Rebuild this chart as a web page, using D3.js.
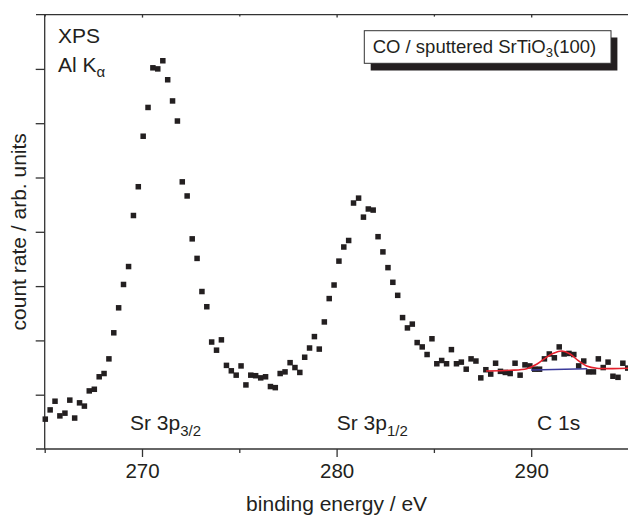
<!DOCTYPE html>
<html>
<head>
<meta charset="utf-8">
<script src="https://cdn.jsdelivr.net/npm/d3@7"></script>
<style>
  body { margin: 0; background: #fff; }
  text { font-family: "Liberation Sans", Arial, sans-serif; fill: #231f20; }
</style>
</head>
<body>
<div id="chart"></div>
<script>
var width = 628
var height = 516

// binding energies of the measured points (eV)
var energies = [
  265.03, 265.28, 265.53, 265.78, 266.04, 266.29, 266.54, 266.79, 267.04, 267.29,
  267.55, 267.80, 268.05, 268.30, 268.55, 268.80, 269.05, 269.31, 269.56, 269.81,
  270.06, 270.31, 270.56, 270.81, 271.07, 271.32, 271.57, 271.82, 272.07, 272.32,
  272.58, 272.83, 273.08, 273.33, 273.58, 273.83, 274.08, 274.34, 274.59, 274.84,
  275.09, 275.34, 275.59, 275.84, 276.10, 276.35, 276.60, 276.85, 277.10, 277.35,
  277.61, 277.86, 278.11, 278.36, 278.61, 278.86, 279.11, 279.37, 279.62, 279.87,
  280.12, 280.37, 280.62, 280.87, 281.13, 281.38, 281.63, 281.88, 282.13, 282.38,
  282.64, 282.89, 283.14, 283.39, 283.64, 283.89, 284.14, 284.40, 284.65, 284.90,
  285.15, 285.40, 285.65, 285.90, 286.16, 286.41, 286.66, 286.91, 287.16, 287.41,
  287.67, 287.92, 288.17, 288.42, 288.67, 288.92, 289.17, 289.43, 289.68, 289.93,
  290.18, 290.43, 290.68, 290.93, 291.19, 291.44, 291.69, 291.94, 292.19, 292.44,
  292.70, 292.95, 293.20, 293.45, 293.70, 293.95, 294.20, 294.46, 294.71, 294.96
]

// count rate, arbitrary units
var counts = [
  0.55, 0.72, 0.88, 0.61, 0.66, 0.90, 0.57, 0.85, 0.79, 1.07,
  1.10, 1.33, 1.39, 1.66, 2.14, 2.60, 3.03, 3.36, 4.30, 4.83,
  5.76, 6.29, 7.02, 7.00, 7.15, 6.80, 6.41, 6.04, 4.92, 4.66,
  3.87, 3.51, 2.90, 2.62, 1.97, 1.82, 2.01, 1.54, 1.44, 1.36,
  1.53, 1.18, 1.36, 1.35, 1.31, 1.33, 1.15, 1.13, 1.39, 1.42,
  1.59, 1.50, 1.41, 1.69, 1.86, 2.07, 1.84, 2.34, 2.77, 3.02,
  3.46, 3.72, 3.84, 4.53, 4.62, 4.27, 4.42, 4.40, 3.91, 3.63,
  3.34, 3.07, 2.83, 2.42, 2.23, 2.30, 1.96, 1.88, 1.74, 2.03,
  1.57, 1.63, 1.57, 1.83, 1.57, 1.60, 1.47, 1.66, 1.62, 1.31,
  1.46, 1.38, 1.58, 1.43, 1.41, 1.39, 1.58, 1.36, 1.55, 1.53,
  1.47, 1.47, 1.66, 1.75, 1.68, 1.88, 1.75, 1.76, 1.74, 1.53,
  1.62, 1.42, 1.42, 1.66, 1.50, 1.60, 1.34, 1.32, 1.58, 1.49
]

// C 1s fit (red) and its background (blue)
var fitE = [287.68, 288.91, 289.77, 290.28, 290.71, 291.14, 291.57, 292.00, 292.42, 292.85, 293.37, 294.98, 295.5]
var fitC = [1.436, 1.449, 1.479, 1.560, 1.670, 1.762, 1.805, 1.750, 1.626, 1.529, 1.486, 1.486, 1.486]
var bgE = [289.99, 292.88]
var bgC = [1.455, 1.477]

var majorTicks = [270, 280, 290]
var minorTicks = [265, 275, 285, 295]
var yTicks = [1, 2, 3, 4, 5, 6, 7]

var xScale = d3.scaleLinear().domain([265, 295]).range([44.7, 628.5])
var yScale = d3.scaleLinear().domain([0, 8]).range([449, 14.6])

var svg = d3.select("#chart").append("svg")
    .attr("width", width)
    .attr("height", height)

var axisColor = "#333"

// bottom axis
var bottomG = svg.append("g").attr("transform", "translate(0," + yScale(0) + ")")
bottomG.append("line")
    .attr("x1", 36).attr("x2", width)
    .attr("stroke", axisColor).attr("stroke-width", 1.3)
bottomG.append("g")
    .call(d3.axisBottom(xScale).tickValues(majorTicks).tickSize(8).tickPadding(6).tickFormat(d3.format("d")))
bottomG.append("g")
    .call(d3.axisBottom(xScale).tickValues(minorTicks).tickSize(4).tickFormat(""))

// top axis, ticks pointing inward
var topG = svg.append("g").attr("transform", "translate(0," + yScale(8) + ")")
topG.append("line")
    .attr("x1", 36).attr("x2", width)
    .attr("stroke", axisColor).attr("stroke-width", 1.3)
topG.append("g")
    .call(d3.axisBottom(xScale).tickValues(majorTicks).tickSize(3).tickFormat(""))
topG.append("g")
    .call(d3.axisBottom(xScale).tickValues(minorTicks).tickSize(2).tickFormat(""))

// left axis
var leftG = svg.append("g").attr("transform", "translate(" + xScale(265) + ",0)")
leftG.append("line")
    .attr("y1", yScale(8)).attr("y2", yScale(0))
    .attr("stroke", axisColor).attr("stroke-width", 1.3)
leftG.append("g")
    .call(d3.axisLeft(yScale).tickValues(yTicks).tickSize(9).tickFormat(""))

svg.selectAll(".domain").remove()
svg.selectAll(".tick line").attr("stroke", axisColor).attr("stroke-width", 1.3)
svg.selectAll(".tick text")
    .attr("font-size", "20.5px")
    .attr("font-family", "'Liberation Sans', Arial, sans-serif")
    .attr("fill", "#231f20")

// axis titles
svg.append("text")
    .attr("x", (xScale(265) + xScale(295)) / 2)
    .attr("y", 511)
    .attr("text-anchor", "middle")
    .attr("font-size", "21px")
    .text("binding energy / eV")

svg.append("text")
    .attr("transform", "translate(26," + (yScale(0) + yScale(8)) / 2 + ") rotate(-90)")
    .attr("text-anchor", "middle")
    .attr("font-size", "21px")
    .text("count rate / arb. units")

// data points
var points = energies.map(function(e, i) { return [e, counts[i]] })
var sq = 5.5
svg.append("g").selectAll(".pt")
    .data(points)
    .enter()
    .append("rect")
    .attr("class", "pt")
    .attr("x", function(d) { return xScale(d[0]) - sq / 2 })
    .attr("y", function(d) { return yScale(d[1]) - sq / 2 })
    .attr("width", sq)
    .attr("height", sq)
    .attr("fill", "#231f20")

// background and fit
var lineGen = d3.line()
    .x(function(d) { return xScale(d[0]) })
    .y(function(d) { return yScale(d[1]) })

svg.append("path")
    .datum(bgE.map(function(e, i) { return [e, bgC[i]] }))
    .attr("d", lineGen)
    .attr("fill", "none")
    .attr("stroke", "#3b3b9b")
    .attr("stroke-width", 1.6)

svg.append("path")
    .datum(fitE.map(function(e, i) { return [e, fitC[i]] }))
    .attr("d", lineGen.curve(d3.curveCatmullRom))
    .attr("fill", "none")
    .attr("stroke", "#e4202c")
    .attr("stroke-width", 1.6)

// annotations
svg.append("text").attr("x", 58).attr("y", 42.7).attr("font-size", "21px").text("XPS")
var al = svg.append("text").attr("x", 58).attr("y", 72.3).attr("font-size", "21px")
al.append("tspan").text("Al K")
al.append("tspan").attr("font-size", "15px").attr("dy", 4.5).text("\u03b1")

var peaks = [
  {x: 130, main: "Sr 3p", sub: "3/2"},
  {x: 336.7, main: "Sr 3p", sub: "1/2"},
  {x: 537, main: "C 1s", sub: ""}
]
peaks.forEach(function(p) {
    var t = svg.append("text").attr("x", p.x).attr("y", 430).attr("font-size", "21px")
    t.append("tspan").text(p.main)
    if (p.sub) t.append("tspan").attr("font-size", "15px").attr("dy", 6).text(p.sub)
})

// legend box with drop shadow
var legG = svg.append("g")
legG.append("rect")
    .attr("x", 370.7).attr("y", 37.5).attr("width", 246.7).attr("height", 33)
    .attr("fill", "#231f20")
legG.append("rect")
    .attr("x", 364.3).attr("y", 30.7).attr("width", 246.7).attr("height", 32.6)
    .attr("fill", "#fff").attr("stroke", "#333").attr("stroke-width", 1)
var leg = legG.append("text").attr("x", 372.7).attr("y", 53.3).attr("font-size", "18.5px")
leg.append("tspan").text("CO / sputtered SrTiO")
leg.append("tspan").attr("font-size", "13px").attr("dy", 4).text("3")
leg.append("tspan").attr("dy", -4).text("(100)")
</script>
</body>
</html>
